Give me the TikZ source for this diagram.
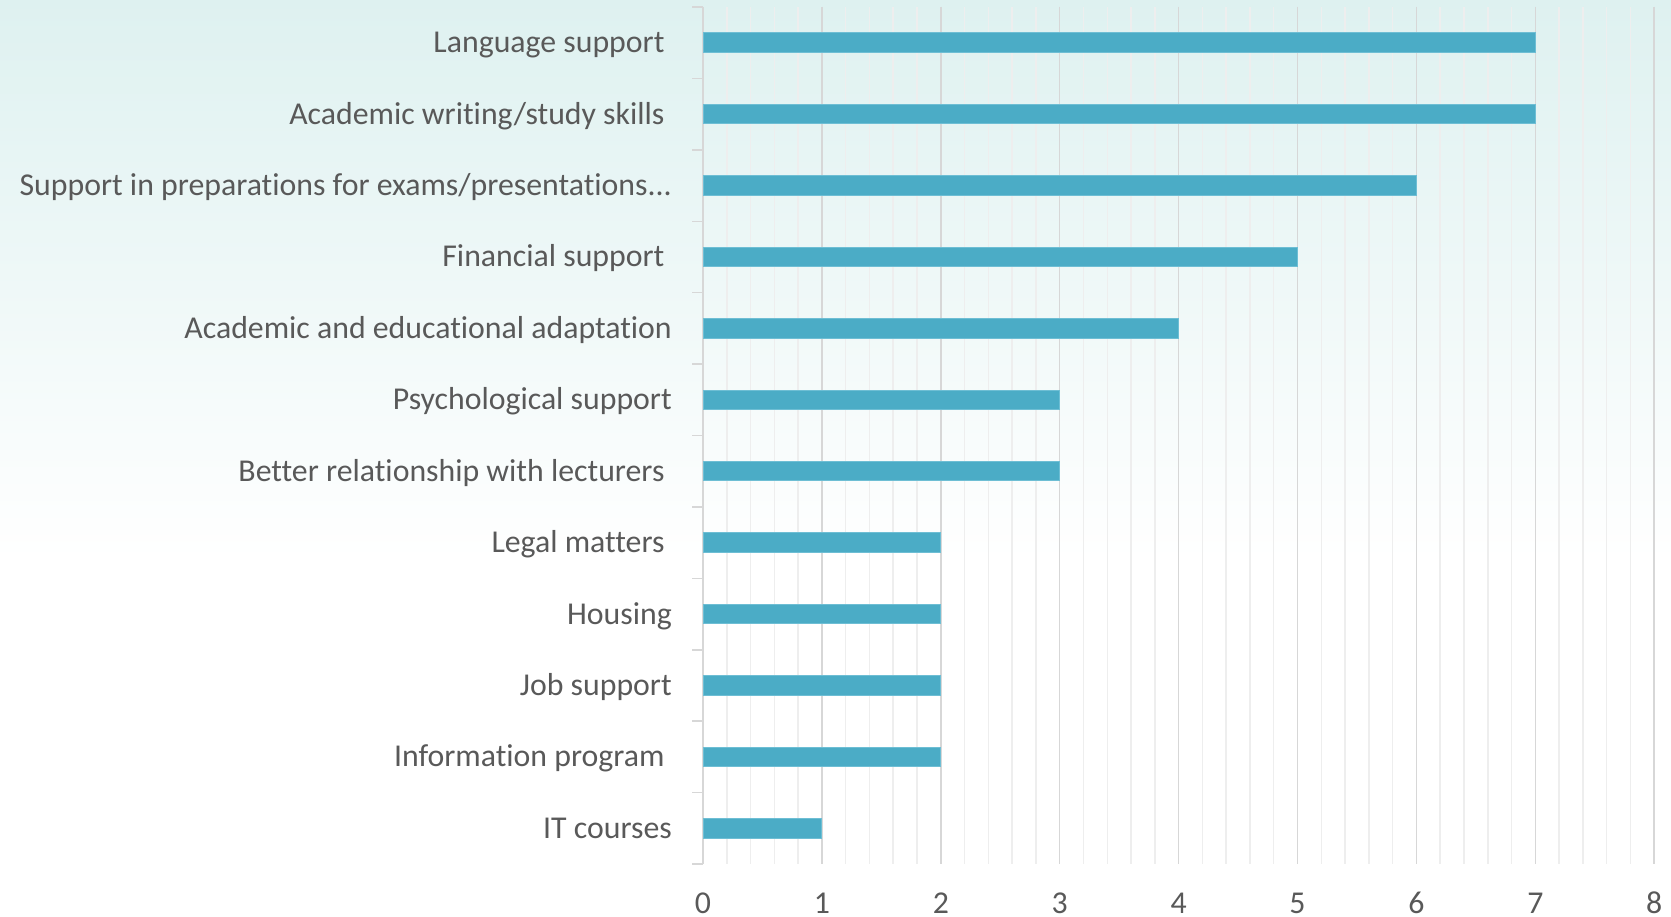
\documentclass[tikz,border=0pt]{standalone}
\usepackage{fontspec}
\setmainfont[Ligatures={NoCommon}]{Carlito}
\usetikzlibrary{positioning}

\definecolor{barblue}{RGB}{75,172,198}
\definecolor{baredge}{RGB}{110,190,212}
\definecolor{txtgray}{RGB}{89,89,89}
\definecolor{majgrid}{RGB}{215,215,215}
\definecolor{mingrid}{RGB}{238,238,238}
\definecolor{bgteal}{RGB}{222,241,240}

\newcommand{\trail}{\kern.23em}
\newcommand{\etc}{.\kern0pt.\kern0pt.}
\newcommand{\xo}{703}
\newcommand{\unit}{118.9}
\newcommand{\row}{71.42}

\begin{document}
\begin{tikzpicture}[x=1pt,y=-1pt,
        bar/.style={fill=barblue,draw=baredge,line width=1pt},
        catlabel/.style={anchor=base east,inner sep=0pt,text=txtgray,font=\fontsize{31.8}{36}\selectfont},
        numlabel/.style={anchor=base,inner sep=0pt,text=txtgray,font=\fontsize{31.8}{36}\selectfont},
        gridmajor/.style={draw=majgrid,line width=1.5pt},
        gridminor/.style={draw=mingrid,line width=1.5pt}]

        \useasboundingbox (0,0) rectangle (1671,917);
        \shade[top color=bgteal,bottom color=white] (0,0) rectangle (1671,560);

        % grid
        \foreach \k in {1,...,40}
          \draw[gridminor] ({\xo+\k*\unit/5},7) -- ({\xo+\k*\unit/5},864);
        \foreach \n in {1,...,8}
          \draw[gridmajor] ({\xo+\n*\unit},7) -- ({\xo+\n*\unit},864);

        % category axis
        \draw[gridmajor] (\xo,7) -- (\xo,864);
        \foreach \j in {0,...,12}
          \draw[gridmajor] (692,{7+\j*\row}) -- (\xo,{7+\j*\row});

        % bars and labels
        \foreach \v/\txt [count=\i] in {
            7/{Language support\trail},
            7/{Academic writing/study skills\trail},
            6/{Support in preparations for exams/presentations\etc},
            5/{Financial support\trail},
            4/{Academic and educational adaptation},
            3/{Psychological support},
            3/{Better relationship with lecturers\trail},
            2/{Legal matters\trail},
            2/{Housing},
            2/{Job support},
            2/{Information program\trail},
            1/{IT courses}} {
          \draw[bar] (\xo,{7+(\i-0.5)*\row-9.75}) rectangle ({\xo+\v*\unit},{7+(\i-0.5)*\row+9.75});
          \node[catlabel] (cat\i) at (672,{7+(\i-0.5)*\row+10}) {\txt};
        }

        % value axis
        \foreach \n in {0,...,8}
          \node[numlabel] (num\n) at ({\xo+\n*\unit},913.5) {\n};

      \end{tikzpicture}
\end{document}
